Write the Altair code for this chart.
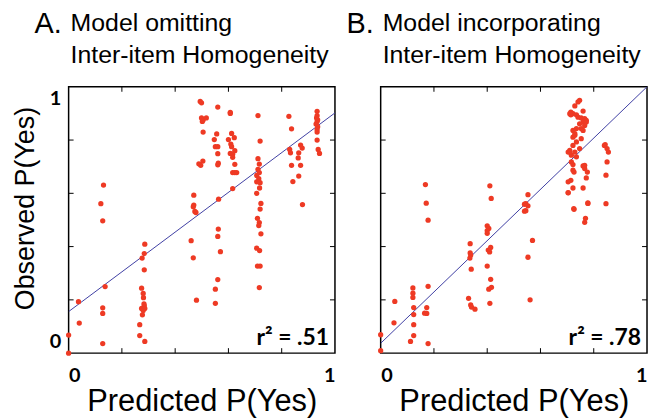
import altair as alt
import pandas as pd

# ---------------- data ----------------
a_x = [0.0, 0.0, 0.04, 0.037,
       0.131, 0.121, 0.128, 0.137, 0.128, 0.128, 0.128,
       0.286, 0.284, 0.276, 0.284, 0.274, 0.28, 0.281, 0.284, 0.274, 0.286, 0.28, 0.283, 0.277, 0.267, 0.267, 0.286,
       0.47, 0.47, 0.468, 0.474, 0.478, 0.46, 0.468, 0.48,
       0.494, 0.499, 0.499, 0.505, 0.517, 0.502, 0.505, 0.489, 0.496, 0.504,
       0.56, 0.556, 0.547, 0.551, 0.56, 0.56, 0.562, 0.56, 0.563, 0.562, 0.56, 0.57, 0.56, 0.551, 0.551,
       0.607, 0.607, 0.612, 0.6, 0.622, 0.609, 0.612, 0.624, 0.607, 0.616, 0.616, 0.624, 0.616, 0.624, 0.631, 0.616,
       0.711, 0.719, 0.711, 0.716, 0.711, 0.716, 0.706, 0.714, 0.706, 0.719, 0.717, 0.706, 0.722, 0.719, 0.709,
       0.716, 0.714, 0.722, 0.706, 0.717, 0.709, 0.719, 0.716,
       0.827, 0.837, 0.83, 0.833, 0.837, 0.842,
       0.871, 0.877, 0.864, 0.862, 0.871, 0.864, 0.878,
       0.933, 0.933, 0.931, 0.935, 0.933, 0.929, 0.935, 0.933, 0.933, 0.933, 0.937, 0.942]
a_y = [0.0, 0.068, 0.113, 0.193,
       0.631, 0.561, 0.497, 0.25, 0.17, 0.149, 0.036,
       0.409, 0.374, 0.357, 0.313, 0.244, 0.224, 0.208, 0.178, 0.168, 0.168, 0.16, 0.185, 0.144, 0.107, 0.066, 0.044,
       0.593, 0.556, 0.55, 0.532, 0.528, 0.422, 0.358, 0.199,
       0.945, 0.94, 0.883, 0.875, 0.883, 0.87, 0.83, 0.711, 0.705, 0.721,
       0.924, 0.823, 0.802, 0.775, 0.775, 0.749, 0.713, 0.707, 0.578, 0.466, 0.438, 0.381, 0.276, 0.24, 0.187,
       0.904, 0.9, 0.825, 0.802, 0.809, 0.785, 0.775, 0.76, 0.75, 0.747, 0.735, 0.709, 0.678, 0.678, 0.678, 0.618,
       0.892, 0.796, 0.73, 0.71, 0.69, 0.678, 0.667, 0.655, 0.643, 0.64, 0.62, 0.6, 0.562, 0.541, 0.506,
       0.49, 0.479, 0.448, 0.394, 0.385, 0.327, 0.327, 0.246,
       0.889, 0.842, 0.765, 0.752, 0.705, 0.644,
       0.781, 0.77, 0.752, 0.733, 0.705, 0.665, 0.558,
       0.908, 0.892, 0.883, 0.876, 0.87, 0.86, 0.85, 0.84, 0.83, 0.8, 0.765, 0.75]

b_x = [0.0, 0.0, 0.053, 0.05, 0.112, 0.124, 0.124, 0.124, 0.124, 0.121, 0.121, 0.121,
       0.168, 0.171, 0.178, 0.178, 0.173, 0.165, 0.173, 0.178,
       0.336, 0.336, 0.338, 0.335, 0.34, 0.33, 0.338, 0.341, 0.354,
       0.41, 0.415, 0.4, 0.406, 0.4, 0.4, 0.413, 0.404, 0.409, 0.4, 0.413, 0.416, 0.406, 0.41,
       0.54, 0.54, 0.553, 0.545, 0.553, 0.545, 0.57, 0.553, 0.561,
       0.747, 0.741, 0.729, 0.714, 0.722, 0.735, 0.76, 0.714, 0.741, 0.753, 0.766, 0.772, 0.76, 0.747,
       0.766, 0.753, 0.735, 0.722, 0.76, 0.729, 0.722, 0.753, 0.735, 0.722, 0.71, 0.729, 0.747, 0.716,
       0.704, 0.735, 0.716, 0.722, 0.76, 0.766, 0.776, 0.726, 0.772, 0.714, 0.704, 0.722, 0.76, 0.704,
       0.726, 0.778, 0.769, 0.766,
       0.71, 0.772, 0.729, 0.71, 0.704, 0.778, 0.725, 0.766, 0.722,
       0.843, 0.84, 0.85, 0.855, 0.85, 0.846, 0.846]
b_y = [0.009, 0.069, 0.194, 0.114, 0.044, 0.066, 0.107, 0.145, 0.171, 0.209, 0.225, 0.245,
       0.633, 0.563, 0.499, 0.251, 0.171, 0.15, 0.149, 0.036,
       0.411, 0.376, 0.368, 0.357, 0.315, 0.206, 0.181, 0.173, 0.165,
       0.628, 0.581, 0.478, 0.468, 0.46, 0.45, 0.397, 0.387, 0.38, 0.327, 0.277, 0.247, 0.24, 0.187,
       0.559, 0.533, 0.595, 0.561, 0.553, 0.535, 0.423, 0.36, 0.2,
       0.949, 0.943, 0.928, 0.905, 0.899, 0.895, 0.909, 0.895, 0.886, 0.883, 0.88, 0.874, 0.868, 0.861,
       0.855, 0.843, 0.843, 0.836, 0.836, 0.824, 0.811, 0.805, 0.793, 0.78, 0.761, 0.755, 0.768, 0.743,
       0.755, 0.737, 0.718, 0.708, 0.703, 0.693, 0.68, 0.68, 0.658, 0.649, 0.643, 0.62, 0.62, 0.602,
       0.54, 0.562, 0.506, 0.491,
       0.899, 0.868, 0.818, 0.755, 0.603, 0.564, 0.543, 0.705, 0.687,
       0.783, 0.78, 0.768, 0.755, 0.718, 0.668, 0.561]

fit_a = [0.156, 0.746]   # intercept, slope
fit_b = [0.037, 0.963]
r2_labels = ["r\u00b2 = .51", "r\u00b2 = .78"]
letters = ["A.", "B."]
headings = ["Model omitting\nInter-item Homogeneity", "Model incorporating\nInter-item Homogeneity"]
axis_ticks = [0.2, 0.4, 0.6, 0.8]
label_ticks = [0, 1]
x_title = "Predicted P(Yes)"
y_title = "Observed P(Yes)"

# ---------------- style ----------------
W = 268
H = 268
TL = 5
RED = "#ee3a24"
BLUE = "#3f3fa3"
SANS = "Liberation Sans"
NUM = "Lato"


def panel(xs, ys, fit, r2, letter, heading, show_y):
    sx = alt.Scale(domain=[0, 1], nice=False, zero=False)
    sy = alt.Scale(domain=[0, 1], nice=False, zero=False)
    xaxis = alt.Axis(values=label_ticks, format="d", labelFlush=True, ticks=False,
                     domain=False, grid=False, title=x_title, titleFont=SANS,
                     titleFontSize=31, titleFontWeight="normal", titleColor="black",
                     titlePadding=1, labelFont=NUM, labelFontSize=20, labelFontWeight="bold",
                     labelColor="black", labelPadding=13)
    if show_y:
        yaxis = alt.Axis(values=label_ticks, format="d", labelFlush=True, labelFlushOffset=-2,
                         ticks=False, domain=False, grid=False, title=y_title, titleFont=SANS,
                         titleFontSize=27, titleFontWeight="normal", titleColor="black",
                         titlePadding=10, titleY=122, labelFont=NUM, labelFontSize=20,
                         labelFontWeight="bold", labelColor="black", labelPadding=8)
    else:
        yaxis = None
    X = lambda f: alt.X(f, type="quantitative", scale=sx, axis=xaxis)
    Y = lambda f: alt.Y(f, type="quantitative", scale=sy, axis=yaxis)

    pts = alt.Chart(pd.DataFrame({"x": xs, "y": ys})).mark_circle(
        size=28, color=RED, opacity=1).encode(x=X("x"), y=Y("y"))
    line_df = pd.DataFrame({"x": [0, 1], "y": [fit[0], fit[0] + fit[1]]})
    line = alt.Chart(line_df).mark_line(color=BLUE, strokeWidth=1, clip=True).encode(
        x=X("x"), y=Y("y"))
    tdf = pd.DataFrame({"x": axis_ticks, "y": axis_ticks})
    tk_b = alt.Chart(tdf).mark_rule(color="black", strokeWidth=1).encode(
        x=X("x"), y=alt.value(H), y2=alt.value(H - TL))
    tk_t = alt.Chart(tdf).mark_rule(color="black", strokeWidth=1).encode(
        x=X("x"), y=alt.value(0), y2=alt.value(TL))
    tk_l = alt.Chart(tdf).mark_rule(color="black", strokeWidth=1).encode(
        y=Y("y"), x=alt.value(0), x2=alt.value(TL))
    tk_r = alt.Chart(tdf).mark_rule(color="black", strokeWidth=1).encode(
        y=Y("y"), x=alt.value(W), x2=alt.value(W - TL))
    r2t = alt.Chart(pd.DataFrame({"t": [r2]})).mark_text(
        align="right", baseline="alphabetic", font=NUM, fontSize=23, fontWeight="bold",
        color="black").encode(text="t:N", x=alt.value(W - 6), y=alt.value(H - 8))
    let = alt.Chart(pd.DataFrame({"t": [letter]})).mark_text(
        align="right", baseline="alphabetic", font=SANS, fontSize=29, color="black"
    ).encode(text="t:N", x=alt.value(-7), y=alt.value(-54))
    head = alt.Chart(pd.DataFrame({"t": [heading]})).mark_text(
        align="left", baseline="alphabetic", font=SANS, fontSize=25, color="black",
        lineBreak="\n", lineHeight=32).encode(text="t:N", x=alt.value(2), y=alt.value(-56))
    return alt.layer(tk_b, tk_t, tk_l, tk_r, line, pts, r2t, let, head).properties(
        width=W, height=H)


pa = panel(a_x, a_y, fit_a, r2_labels[0], letters[0], headings[0], True)
pb = panel(b_x, b_y, fit_b, r2_labels[1], letters[1], headings[1], False)

chart = alt.hconcat(pa, pb, spacing=46, bounds="flush").properties(
    padding={"left": 2, "top": 0, "right": 0, "bottom": 0}
).configure_view(stroke="black", strokeWidth=1.5)

chart.save("out.html", embed_options={"renderer": "svg", "actions": False})
